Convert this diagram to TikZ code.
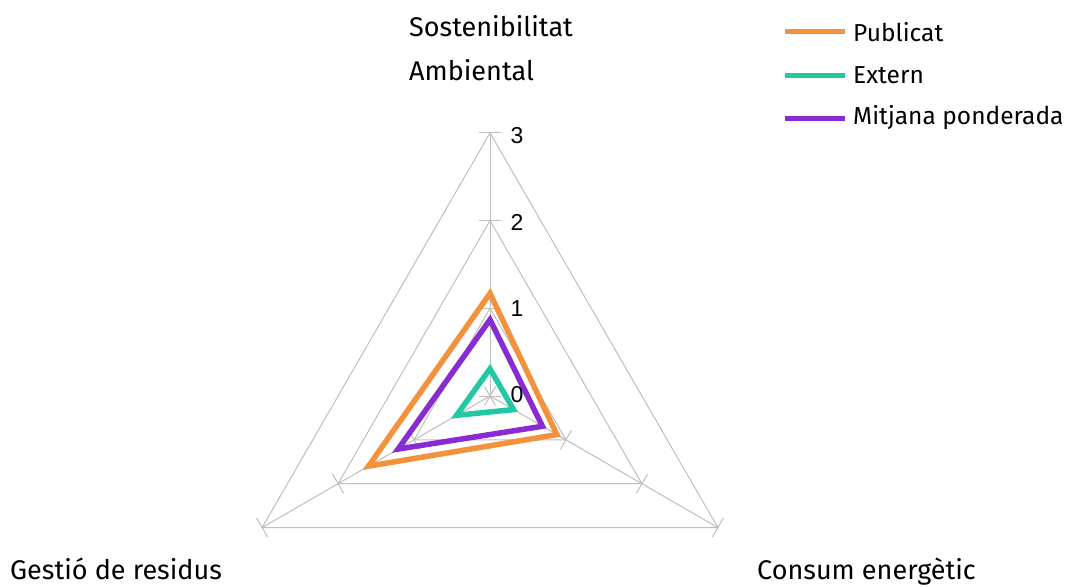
\documentclass[tikz,border=0pt]{standalone}
\usepackage{fontspec}
\setmainfont{Fira Sans}
\newfontfamily\numfont{Liberation Sans}
\definecolor{cpub}{RGB}{243,146,60}
\definecolor{cext}{RGB}{32,201,164}
\definecolor{cmit}{RGB}{136,44,210}
\definecolor{cgrid}{RGB}{190,190,190}
\tikzset{
  grid/.style={draw=cgrid, line width=1pt},
  series/.style={line width=5.5pt, line join=miter},
  cat/.style={font=\fontsize{27}{32}\selectfont, anchor=base west, inner sep=0pt},
  lab/.style={font=\numfont\fontsize{23}{28}\selectfont, inner sep=0pt},
  leg/.style={font=\fontsize{24.5}{29}\selectfont, anchor=west, inner sep=0pt}
}
\begin{document}
\begin{tikzpicture}[x=1pt,y=-1pt]
\useasboundingbox (0,0) rectangle (1075,586);
\def\u{87.7}
\coordinate (C) at (490,396);
\begin{scope}[shift={(C)}]
  % grid triangles
  \foreach \k in {1,2,3}{
    \draw[grid] (-90:\k*\u) -- (30:\k*\u) -- (150:\k*\u) -- cycle;
  }
  % axes
  \foreach \a in {-90,30,150}{
    \draw[grid] (0,0) -- (\a:3*\u);
    \foreach \k in {0,1,2,3}{
      \draw[grid] ([shift={(\a:\k*\u)}]\a+90:11) -- ([shift={(\a:\k*\u)}]\a-90:11);
    }
  }
  % series
  \coordinate (p1) at (-90:1.17*\u);
  \coordinate (p2) at (30:0.88*\u);
  \coordinate (p3) at (150:1.6*\u);
  \coordinate (m1) at (-90:0.87*\u);
  \coordinate (m2) at (30:0.69*\u);
  \coordinate (m3) at (150:1.21*\u);
  \coordinate (e1) at (-90:0.31*\u);
  \coordinate (e2) at (30:0.31*\u);
  \coordinate (e3) at (150:0.44*\u);
  \draw[series, cpub] (p1) -- (p2) -- (p3) -- cycle;
  \draw[series, cext] (e1) -- (e2) -- (e3) -- cycle;
  \draw[series, cmit] (m1) -- (m2) -- (m3) -- cycle;
\end{scope}
% axis value labels
\node[lab] (l3) at (517,136) {3};
\node[lab] (l2) at (517,222) {2};
\node[lab] (l1) at (517,309) {1};
\node[lab] (l0) at (517,395) {0};
% category labels
\node[cat] (cs) at (409,37) {Sostenibilitat};
\node[cat] (ca) at (409,80) {Ambiental};
\node[cat] (cg) at (10,579) {Gestió de residus};
\node[cat] (cc) at (757,579) {Consum energètic};
% legend
\coordinate (a1) at (785,32); \coordinate (b1) at (845,32);
\coordinate (a2) at (785,75); \coordinate (b2) at (845,75);
\coordinate (a3) at (785,118); \coordinate (b3) at (845,118);
\draw[cpub, line width=5pt] (a1) -- (b1);
\draw[cext, line width=5pt] (a2) -- (b2);
\draw[cmit, line width=5pt] (a3) -- (b3);
\node[leg] (t1) at (853,32) {Publicat};
\node[leg] (t2) at (853,75) {Extern};
\node[leg] (t3) at (853,118) {Mitjana ponderada};
\end{tikzpicture}
\end{document}
